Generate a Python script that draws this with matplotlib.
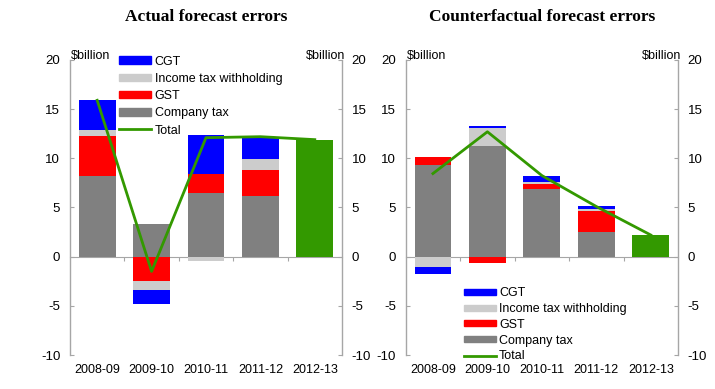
import numpy as np
import matplotlib
matplotlib.use("Agg")
import matplotlib.pyplot as plt
from matplotlib.lines import Line2D
from matplotlib.patches import Patch

plt.rcParams["font.family"] = ["Liberation Sans", "DejaVu Sans"]
plt.rcParams["axes.unicode_minus"] = False

years = ["2008-09", "2009-10", "2010-11", "2011-12", "2012-13"]

# Actual forecast errors ($billion); 2012-13 only has a total
act_company = [8.2, 3.35, 6.5, 6.2, 0.0]
act_gst = [4.1, -2.5, 1.9, 2.6, 0.0]
act_itw = [0.6, -0.9, -0.4, 1.1, 0.0]
act_cgt = [3.0, -1.45, 4.0, 2.3, 0.0]
act_total = [15.9, -1.5, 12.1, 12.2, 11.9]

# Counterfactual forecast errors ($billion)
cf_company = [9.35, 11.3, 6.9, 2.5, 0.0]
cf_gst = [0.8, -0.65, 0.45, 2.1, 0.0]
cf_itw = [-1.05, 1.75, 0.25, 0.25, 0.0]
cf_cgt = [-0.7, 0.27, 0.65, 0.28, 0.0]
cf_total = [8.45, 12.7, 8.25, 5.1, 2.2]

series_names = ["Company tax", "GST", "Income tax withholding", "CGT"]
series_colors = ["#808080", "#ff0000", "#cccccc", "#0000ff"]
green = "#339900"
axis_grey = "#a6a6a6"


def stacked_panel(ax, parts, total, title):
    x = np.arange(len(years))
    width = 0.675
    pos_base = np.zeros(len(years))
    neg_base = np.zeros(len(years))
    for vals, color in zip(parts, series_colors):
        vals = np.array(vals)
        base = np.where(vals >= 0, pos_base, neg_base)
        ax.bar(x, vals, width, bottom=base, color=color, linewidth=0, zorder=2)
        pos_base += np.where(vals > 0, vals, 0)
        neg_base += np.where(vals < 0, vals, 0)

    # last year is shown as a total bar only
    ax.bar(x[-1], total[-1], width, color=green, linewidth=0, zorder=2)
    ax.plot(x, total, color=green, linewidth=2, zorder=3)

    ax.set_xlim(-0.5, len(years) - 0.5)
    ax.set_ylim(-10, 20)
    ax.set_yticks([-10, -5, 0, 5, 10, 15, 20])
    ax.set_xticks(x)
    ax.set_xticklabels(years)
    ax.tick_params(axis="x", length=0, pad=6.5, labelsize=9)
    ax.tick_params(axis="y", direction="in", length=3, color=axis_grey,
                   left=True, right=True, labelleft=True, labelright=True,
                   labelsize=9.5, pad=7)

    for side in ["top", "bottom"]:
        ax.spines[side].set_visible(False)
    for side in ["left", "right"]:
        ax.spines[side].set_color(axis_grey)
        ax.spines[side].set_linewidth(1)

    # zero line with category separators
    zero = ax.secondary_xaxis(1 / 3)
    zero.set_xticks(np.arange(len(years) - 1) + 0.5)
    zero.tick_params(direction="out", length=3, color=axis_grey, labelbottom=False,
                     labeltop=False)
    for sp in zero.spines.values():
        sp.set_color(axis_grey)

    ax.text(0.005, 1.012, "\\$billion", transform=ax.transAxes, ha="left", va="center",
            fontsize=9)
    ax.text(1.012, 1.012, "\\$billion", transform=ax.transAxes, ha="right", va="center",
            fontsize=9)
    ax.set_title(title, fontsize=12.5, fontweight="bold", family="Liberation Serif",
                 pad=28)


def legend_handles():
    handles = [Patch(color=c, label=n) for n, c in zip(series_names, series_colors)]
    handles = handles[::-1]
    handles.append(Line2D([], [], color=green, linewidth=2, label="Total"))
    return handles


fig = plt.figure(figsize=(7.15, 3.89), dpi=100)
ax1 = fig.add_axes([0.0979, 0.0874, 0.3804, 0.7584])
ax2 = fig.add_axes([0.5674, 0.0874, 0.3809, 0.7584])

stacked_panel(ax1, [act_company, act_gst, act_itw, act_cgt], act_total,
              "Actual forecast errors")
stacked_panel(ax2, [cf_company, cf_gst, cf_itw, cf_cgt], cf_total,
              "Counterfactual forecast errors")

ax1.legend(handles=legend_handles(), loc="upper left", bbox_to_anchor=(0.18, 1.015),
           frameon=False, fontsize=9, handlelength=2.6, handleheight=0.55,
           handletextpad=0.25, labelspacing=0.42, borderpad=0, borderaxespad=0)
ax2.legend(handles=legend_handles(), loc="lower left", bbox_to_anchor=(0.214, -0.025),
           frameon=False, fontsize=9, handlelength=2.6, handleheight=0.35,
           handletextpad=0.2, labelspacing=0.3, borderpad=0, borderaxespad=0)

fig.savefig("out.png", dpi=100)
